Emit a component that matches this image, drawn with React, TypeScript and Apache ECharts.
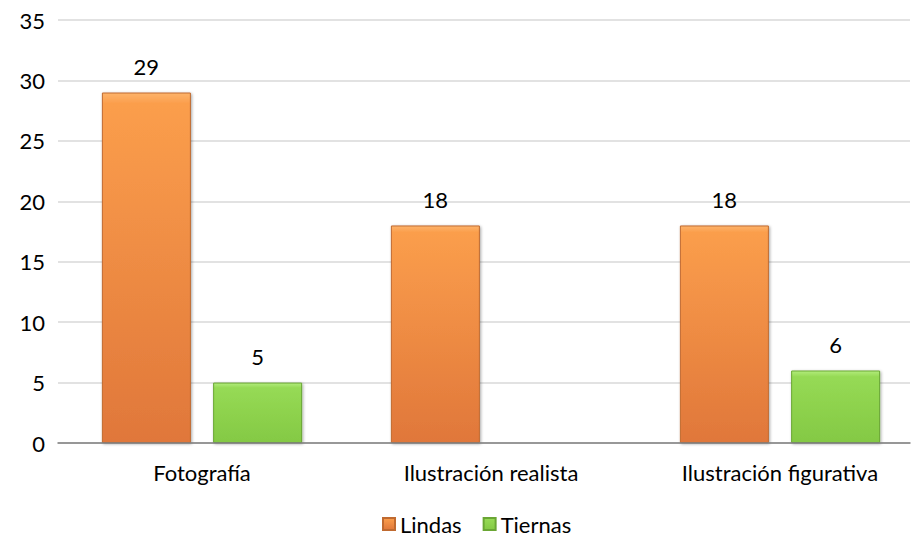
import React, { useEffect, useRef } from "react";
import * as echarts from "echarts";

const categories = ["Fotografía", "Ilustración realista", "Ilustración figurativa"];
const lindas = [29, 18, 18];
const tiernas = [5, null, 6];
const seriesNames = ["Lindas", "Tiernas"];
const yTicks = { min: 0, max: 35, interval: 5 };

const FONT = "Lato, 'Open Sans', sans-serif";
const FS = 22;

const orangeFill = new echarts.graphic.LinearGradient(0, 0, 0, 1, [
  { offset: 0, color: "#fdb36a" },
  { offset: 0.03, color: "#fb9e4c" },
  { offset: 1, color: "#e0773a" },
]);
const greenFill = new echarts.graphic.LinearGradient(0, 0, 0, 1, [
  { offset: 0, color: "#b2ec7c" },
  { offset: 0.08, color: "#96da55" },
  { offset: 1, color: "#84c944" },
]);

export default function App() {
  const ref = useRef<HTMLDivElement>(null);

  useEffect(() => {
    if (!ref.current) return;
    const chart = echarts.init(ref.current, undefined, { renderer: "svg" });
    const label = {
      show: true,
      position: "top" as const,
      distance: 15,
      color: "#000",
      fontSize: FS,
      fontFamily: FONT,
    };
    const shadow = {
      shadowBlur: 3,
      shadowColor: "rgba(0,0,0,0.35)",
      shadowOffsetX: 1,
      shadowOffsetY: 1,
    };
    chart.setOption({
      animation: false,
      backgroundColor: "#fff",
      textStyle: { fontFamily: FONT },
      grid: [
        // value axis, gridlines and baseline
        { left: 58, right: 3, top: 20, bottom: 96, outerBoundsMode: "none" },
        // bar plotting area
        { left: 57.5, width: 867, top: 20, bottom: 96, outerBoundsMode: "none" },
      ],
      legend: {
        bottom: -1,
        left: 377,
        itemWidth: 12,
        itemHeight: 12,
        itemGap: 21,
        icon: "rect",
        textStyle: { fontSize: FS, color: "#000", fontFamily: FONT },
        data: seriesNames,
      },
      xAxis: [
        {
          type: "category",
          gridIndex: 0,
          data: categories,
          axisTick: { show: false },
          axisLabel: { show: false },
          axisLine: { lineStyle: { color: "#7f7f7f", width: 1.5 } },
          z: 5,
        },
        {
          type: "category",
          gridIndex: 1,
          data: categories,
          axisTick: { show: false },
          axisLine: { show: false },
          axisLabel: { color: "#000", fontSize: FS, margin: 18, fontFamily: FONT },
        },
      ],
      yAxis: [
        {
          type: "value",
          gridIndex: 0,
          ...yTicks,
          axisLine: { show: false },
          axisTick: { show: false },
          splitLine: { lineStyle: { color: "#d9d9d9", width: 1.5 } },
          axisLabel: { color: "#000", fontSize: FS, margin: 13, fontFamily: FONT },
        },
        {
          type: "value",
          gridIndex: 1,
          ...yTicks,
          show: false,
          splitLine: { show: false },
        },
      ],
      series: [
        {
          name: seriesNames[0],
          type: "bar",
          xAxisIndex: 1,
          yAxisIndex: 1,
          data: lindas,
          barWidth: 89,
          barGap: "25%",
          itemStyle: {
            color: orangeFill,
            borderColor: "#c06a30",
            borderWidth: 1,
            ...shadow,
          },
          label,
        },
        {
          name: seriesNames[1],
          type: "bar",
          xAxisIndex: 1,
          yAxisIndex: 1,
          data: tiernas,
          barWidth: 89,
          itemStyle: {
            color: greenFill,
            borderColor: "#6aa634",
            borderWidth: 1,
            ...shadow,
          },
          label,
        },
      ],
    });
    return () => chart.dispose();
  }, []);

  return (
    <div
      ref={ref}
      style={{ position: "fixed", left: 0, top: 0, width: 913, height: 539 }}
    />
  );
}
